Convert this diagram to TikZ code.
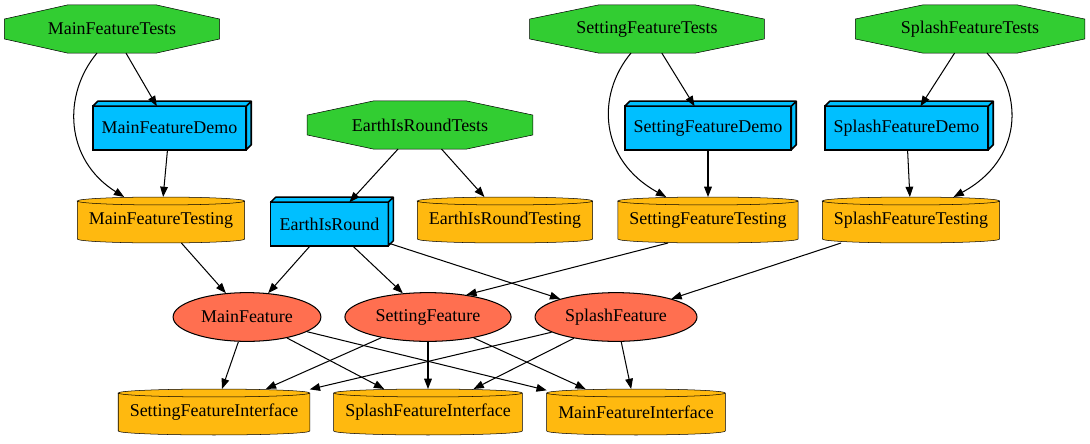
\documentclass[tikz,border=0pt]{standalone}
\usepackage{fontspec}
\setmainfont{Liberation Serif}
\usetikzlibrary{shapes.geometric,arrows.meta,calc,backgrounds}
\definecolor{testgreen}{HTML}{32CD32}
\definecolor{demoblue}{HTML}{00BFFF}
\definecolor{storegold}{HTML}{FFB90F}
\definecolor{featred}{HTML}{FF6F50}
\tikzset{
  every node/.style={font=\fontsize{14pt}{16pt}\selectfont},
  tests/.style={rectangle, minimum height=37.5pt, outer sep=0pt},
  demo/.style={rectangle, draw, line width=1.2pt, fill=demoblue,
    minimum height=34pt, inner xsep=7pt, outer sep=0pt},
  store/.style={rectangle, minimum height=35.9pt, inner xsep=9pt, outer sep=0pt},
  feature/.style={ellipse, draw, fill=featred, minimum height=38pt,
    inner xsep=5pt},
  dep/.style={-{Triangle[length=8pt,width=6pt]}, line width=0.8pt}
}
\begin{document}
\begin{tikzpicture}[x=0.78pt,y=-0.78pt,line width=0.8pt]
\useasboundingbox (0,0) rectangle (1090,443);
% test targets
\node[tests,minimum width=168pt] (mft) at (112,29) {MainFeatureTests};
\node[tests,minimum width=183pt] (sft) at (647,29) {SettingFeatureTests};
\node[tests,minimum width=179pt] (spt) at (970,29) {SplashFeatureTests};
\node[tests,minimum width=176pt] (ert) at (420,125) {EarthIsRoundTests};
\begin{scope}[on background layer]
\foreach \n in {mft,sft,spt,ert}
  \draw[fill=testgreen]
    ($(\n.north west)!.293!(\n.north east)$) -- ($(\n.north west)!.707!(\n.north east)$)
    -- ($(\n.north east)!.293!(\n.south east)$) -- ($(\n.north east)!.707!(\n.south east)$)
    -- ($(\n.south west)!.707!(\n.south east)$) -- ($(\n.south west)!.293!(\n.south east)$)
    -- ($(\n.north west)!.707!(\n.south west)$) -- ($(\n.north west)!.293!(\n.south west)$)
    -- cycle;
\end{scope}
% demos
\node[demo] (mfd) at (169.5,128) {MainFeatureDemo};
\node[demo] (sfd) at (708,128) {SettingFeatureDemo};
\node[demo] (spd) at (906.5,128) {SplashFeatureDemo};
\node[demo] (er) at (329.5,224) {EarthIsRound};
\foreach \n in {mfd,sfd,spd,er}
  \draw[line width=1.2pt,fill=demoblue,line join=round]
    (\n.north west) -- ++(5,-5) -- ($(\n.north east)+(5,-5)$)
    -- ($(\n.south east)+(5,-5)$) -- (\n.south east) -- (\n.north east) -- cycle
    (\n.north east) -- ++(5,-5);
% testing support
\node[store] (mftg) at (161,220) {MainFeatureTesting};
\node[store] (ertg) at (505,220) {EarthIsRoundTesting};
\node[store] (sftg) at (708,220) {SettingFeatureTesting};
\node[store] (sptg) at (911,220) {SplashFeatureTesting};
% features
\node[feature] (mf) at (247,317) {MainFeature};
\node[feature] (sf) at (428,317) {SettingFeature};
\node[feature] (sp) at (616,317) {SplashFeature};
% interfaces
\node[store] (sfi) at (214,412) {SettingFeatureInterface};
\node[store] (spi) at (428,412) {SplashFeatureInterface};
\node[store] (mfi) at (636,412) {MainFeatureInterface};
% cylinders behind the store texts
\begin{scope}[on background layer]
\foreach \st in {mftg,ertg,sftg,sptg,sfi,spi,mfi}
  \draw[fill=storegold] let \p1=($(\st.east)-(\st.west)$) in
    ($(\st.north west)+(0,4)$) -- ($(\st.south west)+(0,-4)$)
    arc[start angle=180,end angle=360,x radius=0.5*\x1,y radius=3.1pt]
    -- ($(\st.north east)+(0,4)$)
    arc[start angle=0,end angle=180,x radius=0.5*\x1,y radius=3.1pt]
    arc[start angle=180,end angle=360,x radius=0.5*\x1,y radius=3.1pt];
\end{scope}

\draw[dep] (mft) -- (mfd);
\draw[dep] ($(mft.south)+(-15,0)$) .. controls (62,95) and (65,160) .. (mftg);
\draw[dep] (mfd) -- (mftg);
\draw[dep] (sft) -- (sfd);
\draw[dep] ($(sft.south)+(-16,0)$) .. controls (596,95) and (599,160) .. (sftg);
\draw[dep] (sfd) -- (sftg);
\draw[dep] (spt) -- (spd);
\draw[dep] ($(spt.south)+(17,0)$) .. controls (1025,95) and (1022,160) .. (sptg);
\draw[dep] (spd) -- (sptg);
\draw[dep] (ert) -- (er);
\draw[dep] (ert) -- (ertg);
\draw[dep] (mftg) -- (mf);
\draw[dep] (er) -- (mf);
\draw[dep] (er) -- (sf);
\draw[dep] (er) -- (sp);
\draw[dep] ($(sftg.south)+(-40,0)$) -- (sf.30);
\draw[dep] (sptg) -- (sp);
\foreach \f in {mf,sf,sp}
  \foreach \i in {sfi,spi,mfi}
    \draw[dep] (\f) -- (\i);
\end{tikzpicture}
\end{document}
